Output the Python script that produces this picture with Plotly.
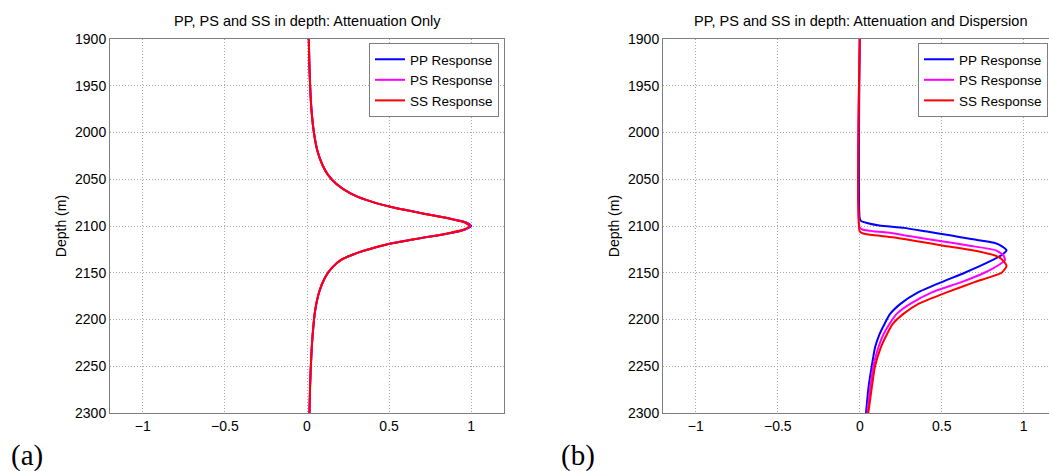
import plotly.graph_objects as go

# (a) attenuation only -- the three responses nearly coincide
depth_a = [1900, 1925, 1950, 1975, 2000, 2020, 2035, 2045, 2055, 2065, 2072, 2080, 2086, 2092,
           2096, 2100, 2104, 2108, 2114, 2120, 2128, 2136, 2145, 2155, 2170, 2190, 2215, 2240,
           2270, 2300]
pp_a = [0.011, 0.014, 0.019, 0.027, 0.042, 0.064, 0.095, 0.127, 0.179, 0.265, 0.36, 0.52, 0.69,
        0.87, 0.965, 1.0, 0.96, 0.86, 0.66, 0.48, 0.32, 0.21, 0.15, 0.11, 0.075, 0.05, 0.035,
        0.026, 0.019, 0.015]
ps_a = [0.011, 0.014, 0.019, 0.027, 0.042, 0.064, 0.095, 0.127, 0.179, 0.265, 0.36, 0.52, 0.69,
        0.868, 0.962, 0.995, 0.957, 0.858, 0.66, 0.48, 0.32, 0.21, 0.15, 0.11, 0.075, 0.05, 0.035,
        0.026, 0.019, 0.015]
ss_a = [0.011, 0.014, 0.019, 0.027, 0.042, 0.064, 0.095, 0.127, 0.179, 0.265, 0.36, 0.52, 0.69,
        0.865, 0.958, 0.99, 0.953, 0.855, 0.658, 0.48, 0.32, 0.21, 0.15, 0.11, 0.075, 0.05, 0.035,
        0.026, 0.019, 0.015]

# (b) attenuation and dispersion
depth_pp = [1900, 2092, 2095, 2097, 2099.5, 2102, 2106, 2110, 2114, 2118, 2122, 2126, 2131, 2139,
            2150, 2160, 2171, 2183, 2194, 2205, 2216, 2230, 2250, 2273, 2300]
pp_b = [0, 0, 0.01, 0.05, 0.12, 0.27, 0.41, 0.55, 0.68, 0.82, 0.87, 0.895, 0.866, 0.78, 0.64,
        0.50, 0.355, 0.25, 0.185, 0.15, 0.12, 0.093, 0.073, 0.053, 0.038]
depth_ps = [1900, 2102, 2104, 2105.5, 2107, 2111, 2116, 2121, 2126, 2131, 2136, 2142, 2150, 2160,
            2171, 2183, 2194, 2205, 2216, 2230, 2250, 2273, 2300]
ps_b = [0, 0, 0.02, 0.08, 0.17, 0.31, 0.49, 0.67, 0.83, 0.875, 0.886, 0.845, 0.76, 0.62, 0.44,
        0.31, 0.225, 0.18, 0.144, 0.113, 0.083, 0.063, 0.046]
depth_ss = [1900, 2106, 2108, 2110, 2112, 2116, 2121, 2127, 2133, 2138, 2143, 2150, 2160, 2171,
            2183, 2194, 2205, 2216, 2230, 2250, 2273, 2300]
ss_b = [0, 0, 0.02, 0.09, 0.2, 0.34, 0.51, 0.72, 0.845, 0.88, 0.895, 0.865, 0.70, 0.53, 0.36,
        0.266, 0.20, 0.165, 0.128, 0.093, 0.073, 0.052]

names = ["PP Response", "PS Response", "SS Response"]
colors = ["#0000ff", "#ff00ff", "#ff0000"]
depth_ticks = [1900, 1950, 2000, 2050, 2100, 2150, 2200, 2250, 2300]
x_ticks = [-1, -0.5, 0, 0.5, 1]
x_labels = ["\u22121", "\u22120.5", "0", "0.5", "1"]

W, H = 1049, 471
font = "Liberation Sans, Arial, sans-serif"
serif = "Liberation Serif, Times New Roman, serif"

fig = go.Figure()

for name, col, vals in zip(names, colors, [pp_a, ps_a, ss_a]):
    fig.add_trace(go.Scatter(x=vals, y=depth_a, mode="lines", name=name,
                             line=dict(color=col, width=2, shape="spline", smoothing=0.6),
                             xaxis="x", yaxis="y", legend="legend"))

for name, col, d, vals in zip(names, colors, [depth_pp, depth_ps, depth_ss], [pp_b, ps_b, ss_b]):
    fig.add_trace(go.Scatter(x=vals, y=d, mode="lines", name=name,
                             line=dict(color=col, width=2, shape="spline", smoothing=0.5),
                             xaxis="x2", yaxis="y2", legend="legend2"))

common_x = dict(tickvals=x_ticks, ticktext=x_labels, showgrid=True, gridcolor="#a8a8a8",
                griddash="1px,2px", gridwidth=1, showline=True, linecolor="#7f7f7f", mirror=True,
                zeroline=False, ticks="", tickfont=dict(size=14, color="black", family=font))
common_y = dict(tickvals=depth_ticks, range=[2300, 1900], showgrid=True, gridcolor="#a8a8a8",
                griddash="1px,2px", gridwidth=1, showline=True, linecolor="#7f7f7f",
                zeroline=False, ticks="", tickfont=dict(size=14, color="black", family=font),
                title=dict(text="Depth (m)", standoff=5, font=dict(size=14, color="black", family=font)))

leg = dict(bgcolor="white", bordercolor="#7f7f7f", borderwidth=1, yanchor="top",
           font=dict(size=13.5, color="black", family=font), tracegroupgap=0)


def label(text, x, y, size=14.5, family=font):
    return dict(text=text, x=x / W, y=(H - y) / H, xref="paper", yref="paper", showarrow=False,
                xanchor="center", yanchor="middle", font=dict(size=size, color="black", family=family))


fig.update_layout(
    width=W, height=H,
    margin=dict(l=0, r=0, t=0, b=0, autoexpand=False),
    paper_bgcolor="white", plot_bgcolor="white",
    xaxis=dict(domain=[110 / W, 504 / W], range=[-1.2, 1.2], anchor="y", **common_x),
    yaxis=dict(domain=[58 / H, 432 / H], anchor="x", mirror=True, **common_y),
    # right panel runs off the edge of the page, so no right-hand border
    xaxis2=dict(domain=[663 / W, 1.0], range=[-1.2, 1.154], anchor="y2", **common_x),
    yaxis2=dict(domain=[58 / H, 432 / H], anchor="x2", mirror=False, **common_y),
    legend=dict(x=499 / W, y=(H - 43) / H, xanchor="right", **leg),
    legend2=dict(x=918 / W, y=(H - 43) / H, xanchor="left", **leg),
    annotations=[
        label("PP, PS and SS in depth: Attenuation Only", 307, 21),
        label("PP, PS and SS in depth: Attenuation and Dispersion", 860, 21),
        label("(a)", 27, 455, 29, serif),
        label("(b)", 578, 455, 29, serif),
    ],
)

fig.write_html("out.html", config={"displayModeBar": False},
               post_script="document.body.style.margin='0';")
